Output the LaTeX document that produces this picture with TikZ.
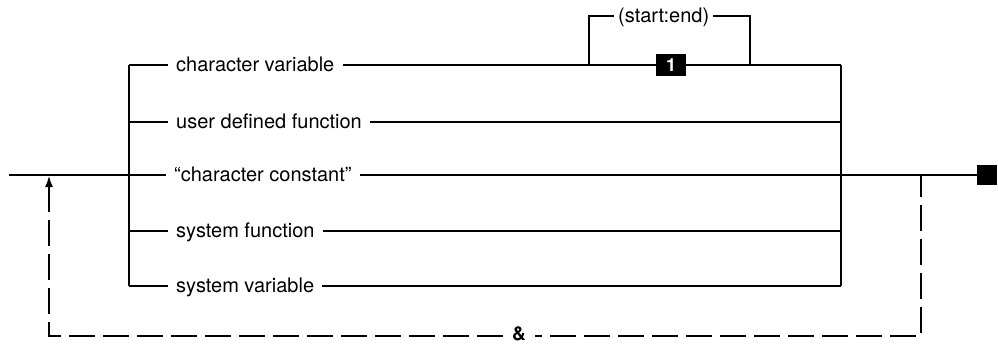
\documentclass[tikz,border=0pt]{standalone}
\usepackage{fontspec}
\setmainfont{TeX Gyre Heros}
\usetikzlibrary{arrows.meta}
\begin{document}
\begin{tikzpicture}[x=1pt,y=-1pt,
  rail/.style={line width=2.9pt},
  loopline/.style={line width=2.6pt, dash pattern=on 26pt off 8pt},
  item/.style={anchor=base west, inner xsep=8pt, inner ysep=0pt,
    font=\fontsize{20}{24}\selectfont},
  numbox/.style={fill=black, text=white, inner sep=0pt,
    minimum width=30pt, minimum height=22pt,
    font=\fontsize{18}{20}\selectfont\bfseries},
  endbox/.style={fill=black, inner sep=0pt, minimum size=20pt},
  ampnode/.style={inner xsep=9pt, inner ysep=0pt,
    font=\fontsize{19}{22}\selectfont\bfseries}
]
\useasboundingbox (0,0) rectangle (998,346);

% entry and exit points of the choice block
\coordinate (start) at (9,175);
\coordinate (L1) at (129,65);  \coordinate (R1) at (841,65);
\coordinate (L2) at (129,122); \coordinate (R2) at (841,122);
\coordinate (L3) at (129,175); \coordinate (R3) at (841,175);
\coordinate (L4) at (129,231); \coordinate (R4) at (841,231);
\coordinate (L5) at (129,286); \coordinate (R5) at (841,286);

% alternatives
\node[item] (t1) at (168,71)  {character variable};
\node[item] (t2) at (168,128) {user defined function};
\node[item] (t3) at (166,181) {``character constant''};
\node[item] (t4) at (168,237) {system function};
\node[item] (t5) at (168,292) {system variable};

% optional substring
\node[numbox] (n1) at (671,65) {1};
\coordinate (A) at (589,65);  \coordinate (B) at (750,65);
\coordinate (At) at (589,16); \coordinate (Bt) at (750,16);
\node[item, inner xsep=4pt] (se) at (614,22) {(start:end)};

% end of statement
\node[endbox] (fin) at (987,175) {};

% rails
\draw[rail] (start) -- (L3);
\draw[rail] (L1) -- (L5);
\draw[rail] (R1) -- (R5);
\draw[rail] (R3) -- (fin.west);

\draw[rail] (L1) -- (L1 -| t1.west);
\draw[rail] (t1.east |- L1) -- (n1.west);
\draw[rail] (n1.east) -- (R1);
\draw[rail] (A) -- (At) -- (se.west |- At);
\draw[rail] (se.east |- Bt) -- (Bt) -- (B);

\draw[rail] (L2) -- (L2 -| t2.west);
\draw[rail] (t2.east |- L2) -- (R2);
\draw[rail] (L3) -- (L3 -| t3.west);
\draw[rail] (t3.east |- L3) -- (R3);
\draw[rail] (L4) -- (L4 -| t4.west);
\draw[rail] (t4.east |- L4) -- (R4);
\draw[rail] (L5) -- (L5 -| t5.west);
\draw[rail] (t5.east |- L5) -- (R5);

% repetition loop
\coordinate (D1) at (921,175); \coordinate (D2) at (921,336);
\coordinate (D3) at (49,336);  \coordinate (D4) at (49,175);
\node[ampnode] (amp) at (519,334) {\&};
\draw[loopline, dash phase=4pt] (D1) -- (D2) -- (amp.east |- D2);
\draw[loopline, -{Latex[length=12pt,width=8pt]}] (amp.west |- D2) -- (D3) -- (D4);
\end{tikzpicture}
\end{document}
